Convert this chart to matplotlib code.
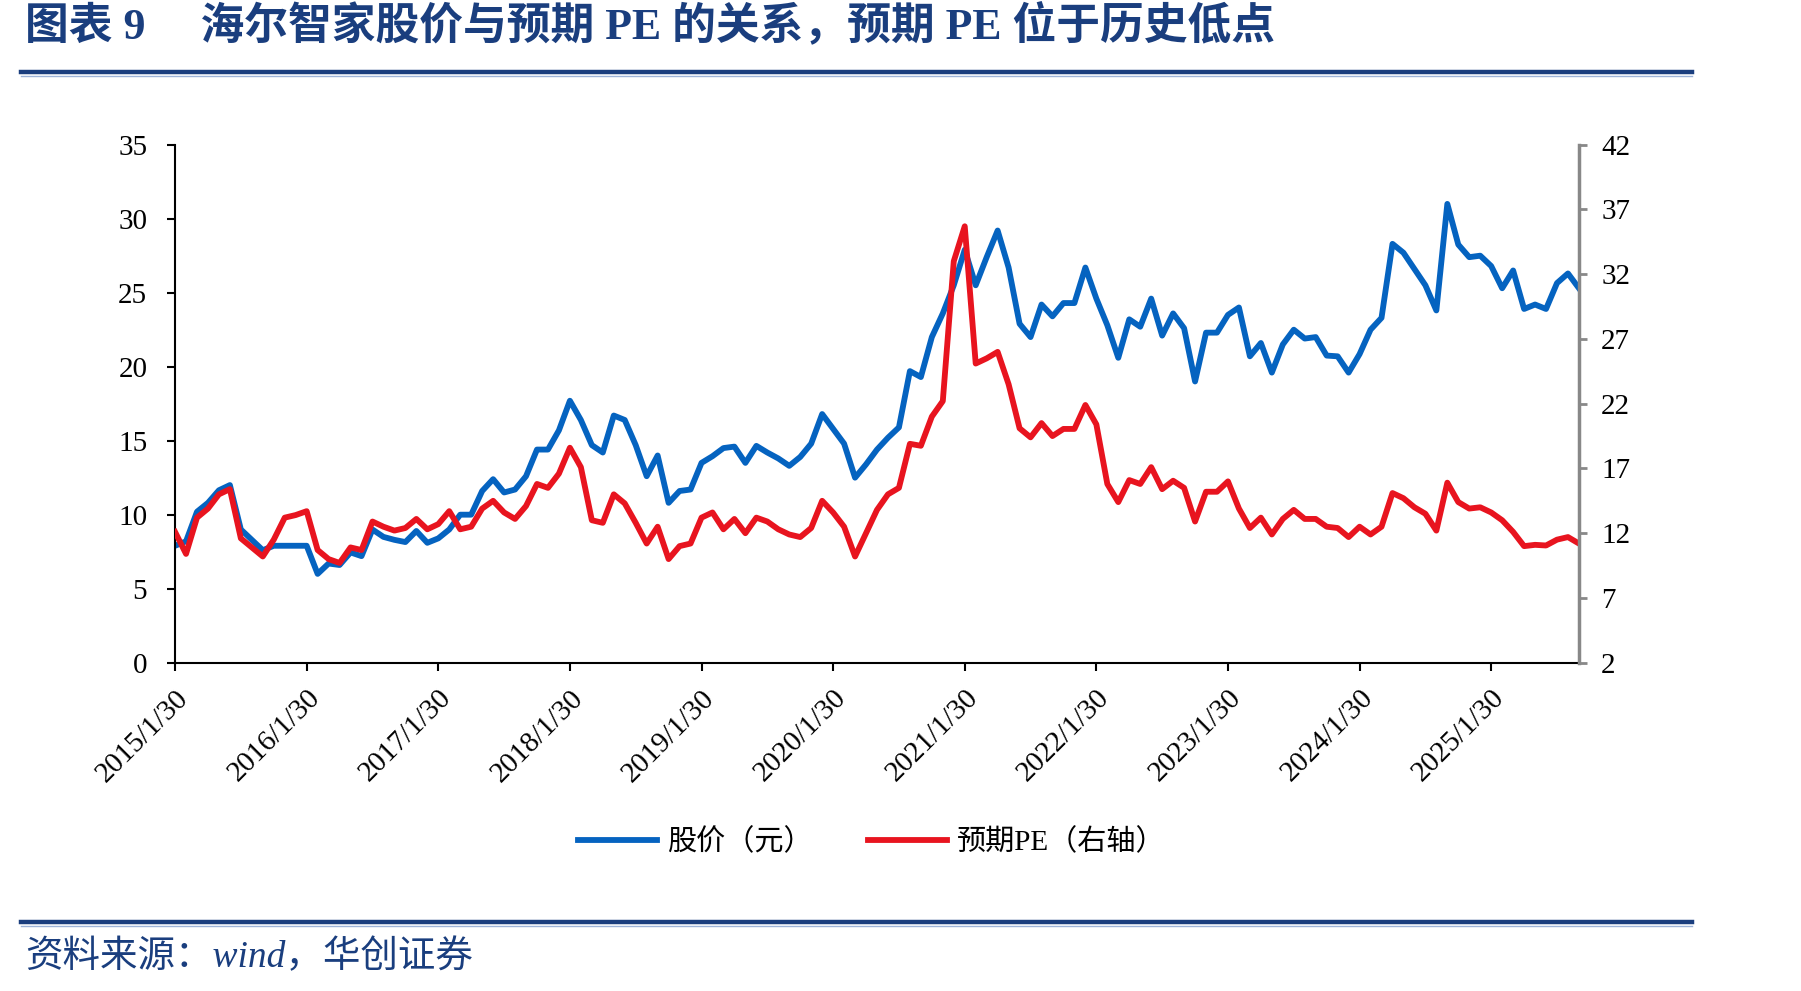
import matplotlib
matplotlib.use('Agg')
import matplotlib.pyplot as plt
from matplotlib.lines import Line2D

plt.rcParams['font.family'] = ['Liberation Serif', 'Noto Sans CJK SC', 'DejaVu Sans']

# 月度数据 2015/1 - 2025/9
price = [7.9, 8.2, 10.2, 10.8, 11.65, 12.0, 9.0, 8.3, 7.6, 7.9, 7.9, 7.9, 7.9,
         6.0, 6.7, 6.6, 7.45, 7.2, 9.0, 8.5, 8.3, 8.15, 8.9, 8.1, 8.4,
         9.0, 10.0, 10.0, 11.6, 12.4, 11.5, 11.7, 12.6, 14.4, 14.4, 15.7, 17.7,
         16.4, 14.7, 14.2, 16.7, 16.4, 14.7, 12.6, 14.0, 10.8, 11.6, 11.7, 13.5,
         13.95, 14.5, 14.6, 13.5, 14.65, 14.2, 13.8, 13.3, 13.9, 14.8, 16.8, 15.8,
         14.8, 12.5, 13.4, 14.4, 15.2, 15.9, 19.7, 19.3, 22.0, 23.6, 25.5, 27.9,
         25.5, 27.4, 29.2, 26.7, 22.9, 22.0, 24.2, 23.4, 24.3, 24.3, 26.7, 24.6,
         22.8, 20.6, 23.2, 22.7, 24.6, 22.1, 23.6, 22.6, 19.0, 22.3, 22.3, 23.5,
         24.0, 20.7, 21.6, 19.6, 21.5, 22.5, 21.9, 22.0, 20.75, 20.7, 19.6, 20.85,
         22.5, 23.3, 28.3, 27.7, 26.6, 25.5, 23.8, 31.0, 28.25, 27.4, 27.5, 26.8,
         25.3, 26.5, 23.9, 24.2, 23.9, 25.65, 26.3, 25.3]

pe = [12.1, 10.4, 13.2, 13.9, 15.0, 15.4, 11.6, 10.9, 10.2, 11.5, 13.2, 13.4, 13.7,
      10.7, 10.0, 9.7, 10.9, 10.7, 12.9, 12.5, 12.2, 12.4, 13.1, 12.3, 12.7,
      13.7, 12.3, 12.5, 13.9, 14.5, 13.6, 13.1, 14.1, 15.8, 15.5, 16.6, 18.6,
      17.1, 13.0, 12.8, 15.0, 14.3, 12.8, 11.2, 12.5, 10.0, 11.0, 11.2, 13.2,
      13.6, 12.3, 13.1, 12.0, 13.2, 12.9, 12.3, 11.9, 11.7, 12.4, 14.5, 13.6,
      12.5, 10.2, 12.0, 13.8, 15.0, 15.5, 18.9, 18.75, 21.0, 22.2, 33.0, 35.7,
      25.1, 25.5, 26.0, 23.5, 20.1, 19.4, 20.5, 19.5, 20.05, 20.05, 21.9, 20.4,
      15.8, 14.4, 16.1, 15.8, 17.1, 15.4, 16.05, 15.5, 12.9, 15.2, 15.2, 16.0,
      13.9, 12.4, 13.2, 11.9, 13.1, 13.8, 13.1, 13.1, 12.5, 12.4, 11.7, 12.5,
      11.9, 12.5, 15.1, 14.7, 14.0, 13.5, 12.2, 15.9, 14.4, 13.9, 14.0, 13.6,
      13.0, 12.1, 11.0, 11.1, 11.05, 11.5, 11.7, 11.2]

xlabels = ['2015/1/30', '2016/1/30', '2017/1/30', '2018/1/30', '2019/1/30', '2020/1/30',
           '2021/1/30', '2022/1/30', '2023/1/30', '2024/1/30', '2025/1/30']

navy = '#1A3E7E'
blue = '#0563C0'
red = '#E8141F'

fig = plt.figure(figsize=(18.01, 9.91), dpi=100)
ax = fig.add_axes([0.0972, 0.3313, 0.7795, 0.5227])
ax2 = ax.twinx()

x = list(range(len(price)))
l1, = ax.plot(x, price, color=blue, lw=4.2, solid_joinstyle='round', label='股价（元）')
l2, = ax2.plot(x, pe, color=red, lw=4.2, solid_joinstyle='round', label='预期PE（右轴）')

ax.set_xlim(0, len(price) - 1)
ax.set_ylim(0, 35)
ax.set_yticks(range(0, 36, 5))
ax2.set_ylim(2, 42)
ax2.set_yticks(range(2, 43, 5))
ax.set_xticks(range(0, 121, 12))
ax.set_xticklabels(xlabels, rotation=45, ha='right', va='top', rotation_mode='anchor')

for a in (ax, ax2):
    a.spines['top'].set_visible(False)
ax.spines['right'].set_visible(False)
ax.spines['left'].set_linewidth(1.5)
ax.spines['bottom'].set_linewidth(1.5)
ax2.spines['left'].set_visible(False)
ax2.spines['bottom'].set_visible(False)
ax2.spines['right'].set_color('#888888')
ax2.spines['right'].set_linewidth(2.5)

ax.tick_params(axis='y', direction='out', length=6, width=1.5, labelsize=21, pad=14)
ax.tick_params(axis='x', direction='out', length=6, width=1.5, labelsize=21, pad=10)
ax2.tick_params(axis='y', direction='out', length=6, width=2, color='#888888',
                labelcolor='black', labelsize=21, pad=10)

fig.legend(handles=[l1, l2], loc='center', bbox_to_anchor=(0.484, 0.150), ncol=2,
           frameon=False, fontsize=21, handlelength=2.7, columnspacing=1.9,
           handletextpad=0.35)

fig.text(0.014, 0.974, '图表 9     海尔智家股价与预期 PE 的关系，预期 PE 位于历史低点',
         fontsize=31.5, fontweight='bold', color=navy, va='center', ha='left')
fig.text(0.014, 0.034, '资料来源：wind，华创证券', fontsize=27, color=navy,
         va='center', ha='left', style='italic')

# 标题和来源下的分隔线
fig.add_artist(Line2D([0.0117, 0.9395], [0.9273, 0.9273], color=navy, lw=3.2))
fig.add_artist(Line2D([0.0117, 0.9395], [0.9236, 0.9236], color='#9DB3D8', lw=1))
fig.add_artist(Line2D([0.0117, 0.9395], [0.0697, 0.0697], color=navy, lw=3.2))
fig.add_artist(Line2D([0.0117, 0.9395], [0.0660, 0.0660], color='#9DB3D8', lw=1))

fig.savefig('out.png', dpi=100)
